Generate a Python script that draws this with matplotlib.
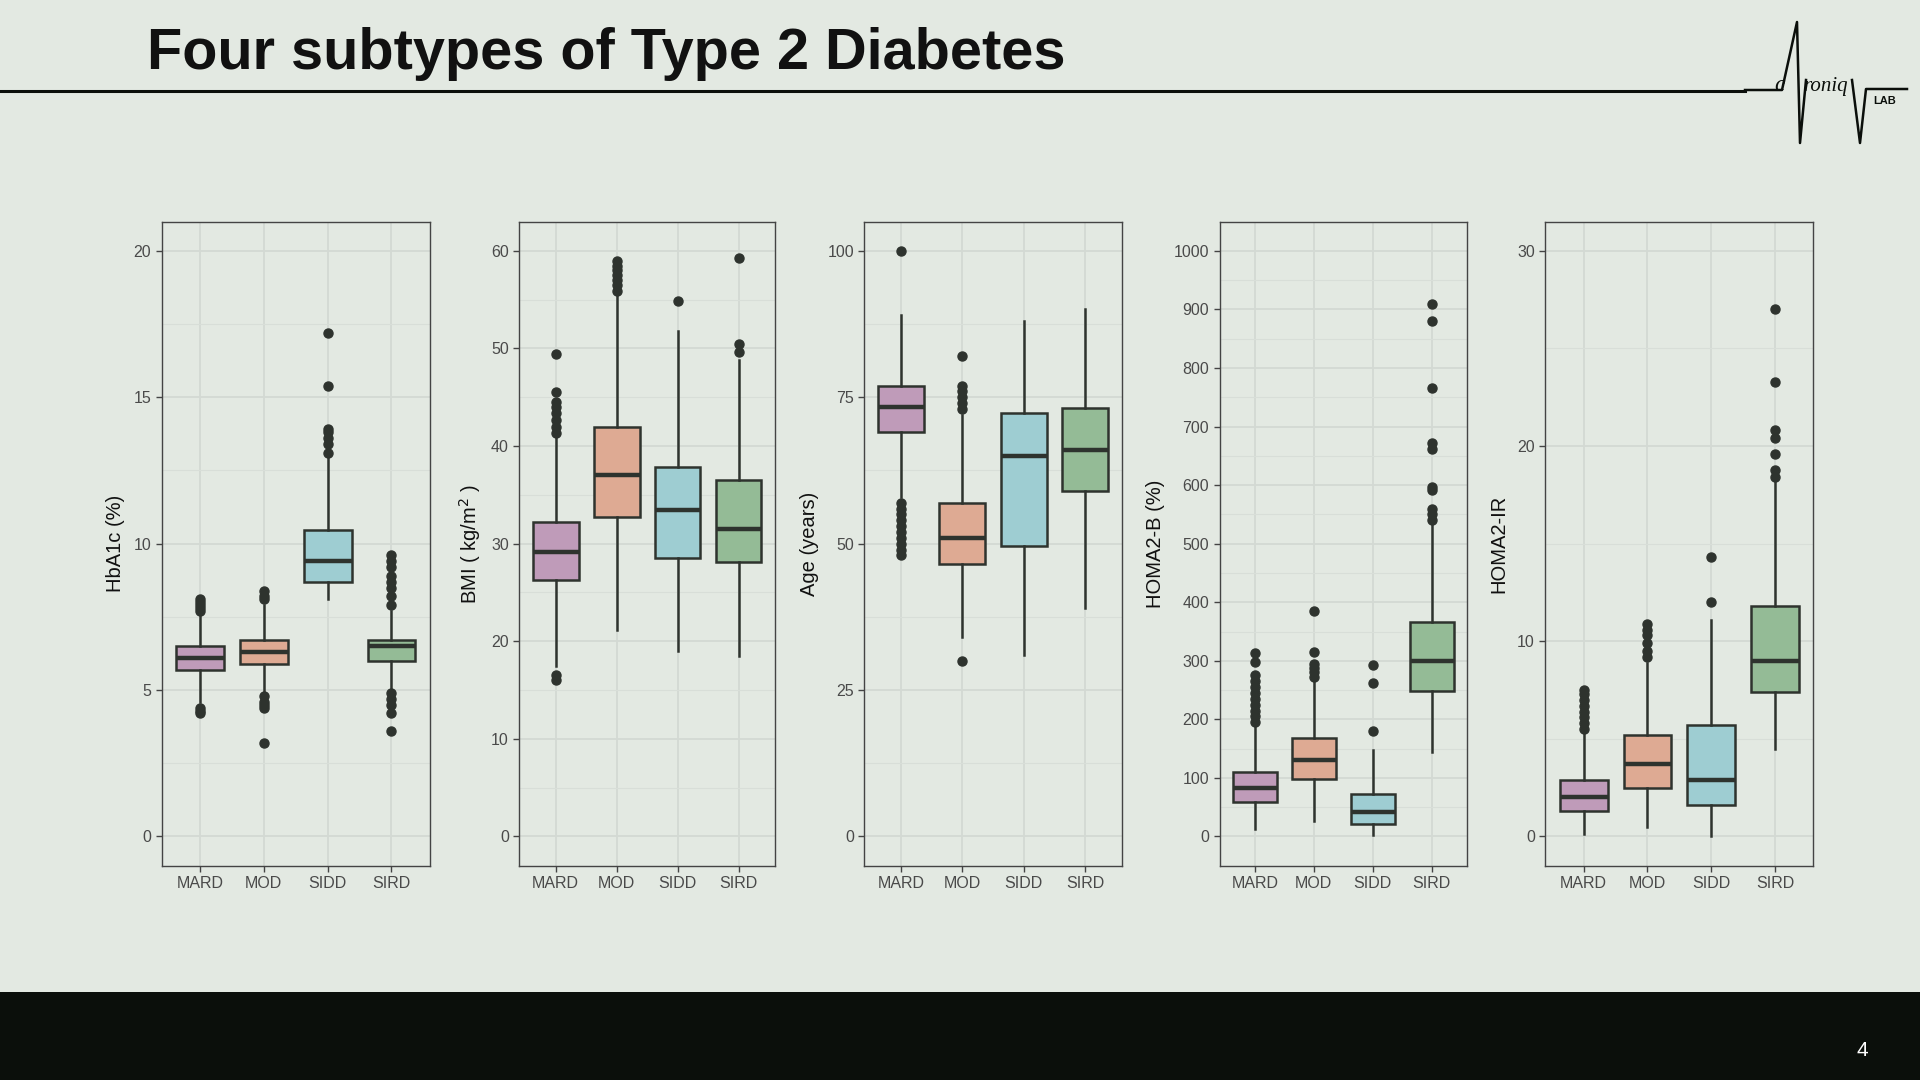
import matplotlib
matplotlib.use("Agg")
import matplotlib.pyplot as plt
from matplotlib.patches import Rectangle
from matplotlib.lines import Line2D

BG = "#e3e9e2"
DARK = "#2e332e"

groups = ["MARD", "MOD", "SIDD", "SIRD"]
colors = ["#bf9bb9", "#deaa93", "#9ecdd2", "#94bb96"]

# box stats per panel: q1, median, q3, whisker low, whisker high, outliers
hba1c_q1 = [5.7, 5.9, 8.7, 6.0]
hba1c_med = [6.1, 6.3, 9.4, 6.5]
hba1c_q3 = [6.5, 6.7, 10.45, 6.7]
hba1c_lo = [4.6, 4.9, 8.1, 5.0]
hba1c_hi = [7.6, 7.9, 13.0, 7.7]
hba1c_out = [[7.7, 7.8, 7.9, 8.0, 8.1, 4.4, 4.3, 4.2],
             [8.1, 8.2, 8.4, 4.8, 4.6, 4.5, 4.4, 3.2],
             [13.1, 13.4, 13.6, 13.8, 13.9, 15.4, 17.2],
             [7.9, 8.2, 8.5, 8.7, 8.9, 9.2, 9.4, 9.6, 4.9, 4.7, 4.5, 4.2, 3.6]]

bmi_q1 = [26.3, 32.7, 28.5, 28.1]
bmi_med = [29.1, 37.0, 33.5, 31.5]
bmi_q3 = [32.2, 42.0, 37.9, 36.5]
bmi_lo = [17.5, 21.2, 19.0, 18.5]
bmi_hi = [41.0, 55.5, 51.8, 48.8]
bmi_out = [[41.3, 42.0, 42.7, 43.4, 44.0, 44.5, 45.5, 49.4, 16.5, 16.0],
           [55.9, 56.5, 57.0, 57.5, 58.0, 58.5, 59.0],
           [54.9],
           [49.6, 50.5, 59.3]]

age_q1 = [69.0, 46.5, 49.6, 59.0]
age_med = [73.3, 51.0, 65.0, 66.0]
age_q3 = [76.9, 56.9, 72.3, 73.2]
age_lo = [58.0, 34.0, 31.0, 39.0]
age_hi = [89.0, 72.0, 88.0, 90.0]
age_out = [[100, 57, 56, 55, 54, 53, 52, 51, 50, 49, 48],
           [73, 74, 75, 76, 77, 82, 30],
           [],
           []]

homab_q1 = [58, 98, 22, 249]
homab_med = [82, 130, 42, 300]
homab_q3 = [110, 168, 72, 366]
homab_lo = [12, 27, 2, 145]
homab_hi = [190, 265, 148, 535]
homab_out = [[195, 205, 215, 225, 235, 245, 255, 265, 275, 298, 313],
             [272, 280, 288, 295, 315, 385],
             [180, 262, 293],
             [540, 550, 560, 592, 597, 662, 672, 766, 880, 910]]

homair_q1 = [1.3, 2.5, 1.6, 7.4]
homair_med = [2.0, 3.7, 2.9, 9.0]
homair_q3 = [2.9, 5.2, 5.7, 11.8]
homair_lo = [0.1, 0.5, 0.0, 4.5]
homair_hi = [5.3, 8.9, 11.1, 18.2]
homair_out = [[5.5, 5.8, 6.1, 6.4, 6.7, 7.0, 7.3, 7.5],
              [9.2, 9.5, 9.9, 10.3, 10.6, 10.9],
              [12.0, 14.3],
              [18.4, 18.8, 19.6, 20.4, 20.8, 23.3, 27.0]]

panels = [
    ("HbA1c (%)", hba1c_q1, hba1c_med, hba1c_q3, hba1c_lo, hba1c_hi, hba1c_out,
     (0, 20), [0, 5, 10, 15, 20], 2.5),
    ("BMI ( kg/m$^2$ )", bmi_q1, bmi_med, bmi_q3, bmi_lo, bmi_hi, bmi_out,
     (0, 60), [0, 10, 20, 30, 40, 50, 60], 5),
    ("Age (years)", age_q1, age_med, age_q3, age_lo, age_hi, age_out,
     (0, 100), [0, 25, 50, 75, 100], 12.5),
    ("HOMA2-B (%)", homab_q1, homab_med, homab_q3, homab_lo, homab_hi, homab_out,
     (0, 1000), list(range(0, 1001, 100)), 50),
    ("HOMA2-IR", homair_q1, homair_med, homair_q3, homair_lo, homair_hi, homair_out,
     (0, 30), [0, 10, 20, 30], 5),
]

# panel x extents in the 1568-wide screenshot
panel_x = [(132, 351), (424, 633), (706, 916), (996, 1198), (1262, 1481)]
W, H = 1568.0, 882.0

fig = plt.figure(figsize=(19.2, 10.8), dpi=100, facecolor=BG)
plt.rcParams['font.family'] = ['Liberation Sans', 'DejaVu Sans']

for (x0, x1), (label, q1, med, q3, lo, hi, out, lim, ticks, minor) in zip(panel_x, panels):
    ax = fig.add_axes([x0 / W, 1 - 707 / H, (x1 - x0) / W, (707 - 181) / H])
    ax.set_facecolor(BG)
    stats = []
    for i in range(4):
        stats.append(dict(q1=q1[i], med=med[i], q3=q3[i], whislo=lo[i],
                          whishi=hi[i], fliers=out[i]))
    bp = ax.bxp(stats, positions=[1, 2, 3, 4], widths=0.75, patch_artist=True,
                showcaps=False,
                boxprops=dict(edgecolor=DARK, linewidth=1.8),
                medianprops=dict(color=DARK, linewidth=3.2),
                whiskerprops=dict(color=DARK, linewidth=1.8),
                flierprops=dict(marker="o", markerfacecolor=DARK,
                                markeredgecolor=DARK, markersize=6.5))
    for patch, c in zip(bp["boxes"], colors):
        patch.set_facecolor(c)
    span = lim[1] - lim[0]
    ax.set_ylim(lim[0] - 0.05 * span, lim[1] + 0.05 * span)
    ax.set_xlim(0.4, 4.6)
    ax.set_yticks(ticks)
    ax.set_yticks([t + minor for t in ticks[:-1]], minor=True)
    ax.set_xticks([1, 2, 3, 4])
    ax.set_xticklabels(groups)
    ax.grid(True, which="major", color="#d3d9d3", linewidth=1.3)
    ax.grid(True, which="minor", axis="y", color="#d8ded8", linewidth=0.8)
    ax.set_axisbelow(True)
    ax.tick_params(axis="both", which="major", length=4, width=1, color="#444444",
                   labelsize=11.5, labelcolor="#4a4a4a")
    ax.tick_params(axis="y", which="minor", length=0)
    for s in ax.spines.values():
        s.set_color("#444444")
        s.set_linewidth(1.0)
    ax.set_ylabel(label, fontsize=14.5, color="#111111", labelpad=6)

# title and header rule
fig.text(120 / W, 1 - 56 / H, "Four subtypes of Type 2 Diabetes", fontsize=41.5,
         fontweight="bold", color="#111111", va="baseline", ha="left")
fig.add_artist(Line2D([0, 1425 / W], [1 - 74 / H, 1 - 74 / H], color="#0b0f0b",
                      linewidth=2.2, transform=fig.transFigure))

# logo (approximate)
def px(x, y):
    return x / 1920.0, 1 - y / 1080.0

logo1 = [px(1745, 90), px(1782, 90), px(1797, 22), px(1800, 143), px(1806, 80)]
logo2 = [px(1852, 80), px(1860, 143), px(1866, 89), px(1907, 89)]
for pts in (logo1, logo2):
    xs, ys = zip(*pts)
    fig.add_artist(Line2D(xs, ys, color="#0b0f0b", linewidth=1.8,
                          transform=fig.transFigure))
fig.text(*px(1774, 91), "c", fontsize=17, style="italic", family="Liberation Serif",
         color="#0b0f0b", ha="left", va="baseline")
fig.text(*px(1803, 91), "roniq", fontsize=15, style="italic", family="Liberation Serif",
         color="#0b0f0b", ha="left", va="baseline")
fig.text(*px(1873, 101), "LAB", fontsize=8, fontweight="bold",
         color="#0b0f0b", ha="left", va="center")

# bottom band with page number
fig.add_artist(Rectangle((0, 0), 1, 1 - 810 / H, transform=fig.transFigure,
                         facecolor="#0b0f0b", edgecolor="none"))
fig.text(1521 / W, 1 - 858 / H, "4", fontsize=15, color="white",
         ha="center", va="center")

fig.savefig("out.png", dpi=100, facecolor=BG)
